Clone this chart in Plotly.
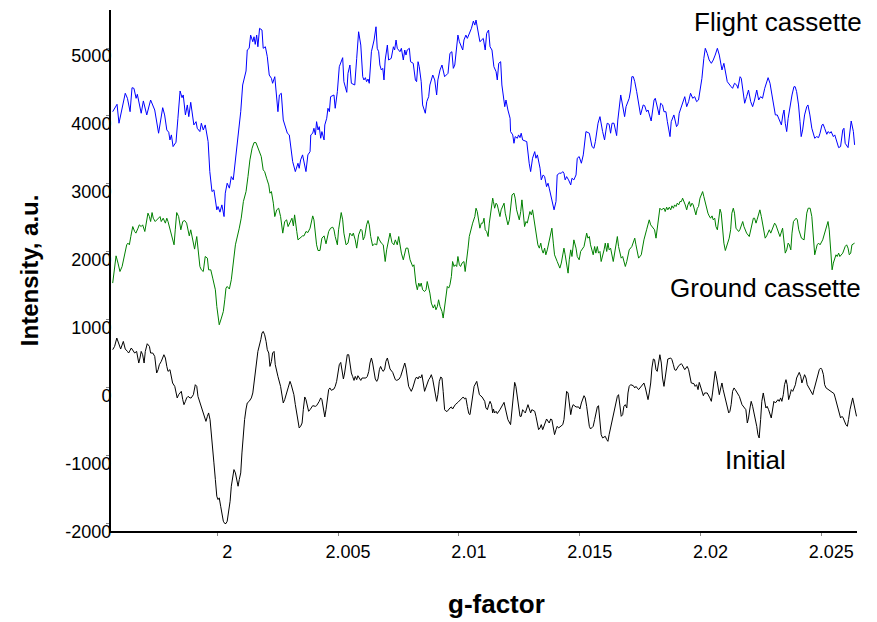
import plotly.graph_objects as go

# (g-factor, intensity a.u.)
flight_cassette = [
    (1.99567, 4063), (1.99585, 4172), (1.99593, 3893), (1.99611, 4187), (1.99619, 4334), (1.99628, 4260),
    (1.99639, 4063), (1.99647, 4416), (1.99655, 4407), (1.99664, 4260), (1.99669, 4319), (1.99685, 4040),
    (1.99694, 4221), (1.99708, 4015), (1.99724, 4235), (1.99741, 4088), (1.99757, 3746), (1.99774, 4122),
    (1.99782, 4015), (1.99791, 3794), (1.99799, 3760), (1.99804, 3647), (1.99810, 3721), (1.99817, 3549),
    (1.99829, 3613), (1.99837, 3966), (1.99846, 4368), (1.99854, 4269), (1.99859, 4309), (1.99868, 4015),
    (1.99876, 4162), (1.99882, 3990), (1.99890, 4201), (1.99903, 3868), (1.99912, 3916), (1.99917, 3819),
    (1.99928, 3770), (1.99934, 3893), (1.99942, 3794), (1.99950, 3868), (1.99962, 3622), (1.99969, 3181),
    (1.99978, 2887), (1.99986, 2912), (1.99992, 2740), (1.99998, 2618), (2.00003, 2667), (2.00011, 2584),
    (2.00019, 2691), (2.00028, 2519), (2.00033, 2863), (2.00041, 3010), (2.00050, 2937), (2.00058, 3107),
    (2.00066, 3059), (2.00075, 3328), (2.00083, 3647), (2.00097, 4063), (2.00105, 4456), (2.00119, 4662),
    (2.00124, 4971), (2.00132, 4996), (2.00138, 5191), (2.00147, 5093), (2.00152, 5166), (2.00157, 5054),
    (2.00163, 5191), (2.00168, 5019), (2.00175, 5290), (2.00185, 5265), (2.00190, 4996), (2.00199, 5019),
    (2.00207, 4872), (2.00215, 4603), (2.00224, 4554), (2.00229, 4481), (2.00238, 4578), (2.00246, 4235),
    (2.00251, 4063), (2.00257, 4309), (2.00265, 4334), (2.00273, 3941), (2.00290, 3746), (2.00298, 3721),
    (2.00304, 3549), (2.00312, 3328), (2.00323, 3181), (2.00329, 3255), (2.00334, 3304), (2.00339, 3230),
    (2.00345, 3353), (2.00353, 3427), (2.00359, 3304), (2.00367, 3181), (2.00375, 3427), (2.00384, 3475),
    (2.00387, 3721), (2.00395, 3746), (2.00400, 3819), (2.00406, 3721), (2.00411, 3916), (2.00417, 3794),
    (2.00422, 3843), (2.00428, 3672), (2.00433, 3770), (2.00442, 3647), (2.00445, 3868), (2.00453, 3966),
    (2.00458, 4113), (2.00464, 4063), (2.00469, 4284), (2.00483, 4309), (2.00488, 4113), (2.00497, 4358),
    (2.00505, 4725), (2.00519, 4858), (2.00524, 4505), (2.00536, 4348), (2.00541, 4628), (2.00549, 4750),
    (2.00555, 4481), (2.00569, 4456), (2.00577, 4848), (2.00585, 5240), (2.00594, 5044), (2.00602, 4578),
    (2.00607, 4530), (2.00613, 4564), (2.00618, 4505), (2.00624, 4544), (2.00629, 4481), (2.00638, 4946),
    (2.00649, 5118), (2.00657, 5313), (2.00662, 4996), (2.00668, 4946), (2.00673, 4750), (2.00679, 4677),
    (2.00685, 4701), (2.00690, 4530), (2.00695, 4824), (2.00704, 5044), (2.00709, 4824), (2.00720, 4848),
    (2.00729, 5019), (2.00734, 4971), (2.00740, 5118), (2.00745, 4996), (2.00756, 4946), (2.00762, 4996),
    (2.00770, 4824), (2.00776, 4971), (2.00781, 4897), (2.00786, 4971), (2.00795, 4996), (2.00800, 4799),
    (2.00811, 4775), (2.00820, 4530), (2.00825, 4505), (2.00831, 4799), (2.00836, 4725), (2.00844, 4505),
    (2.00850, 4162), (2.00861, 4040), (2.00867, 4211), (2.00875, 4284), (2.00880, 4456), (2.00892, 4603),
    (2.00900, 4530), (2.00908, 4309), (2.00913, 4530), (2.00922, 4677), (2.00930, 4750), (2.00941, 4578),
    (2.00955, 4628), (2.00963, 4922), (2.00971, 4946), (2.00977, 4701), (2.00983, 4750), (2.00991, 4996),
    (2.00996, 5191), (2.01002, 5093), (2.01016, 4971), (2.01021, 5118), (2.01029, 5191), (2.01035, 5142),
    (2.01041, 5191), (2.01052, 5290), (2.01060, 5397), (2.01066, 5338), (2.01071, 5412), (2.01082, 5191),
    (2.01087, 5093), (2.01101, 5142), (2.01109, 4971), (2.01115, 5216), (2.01123, 5265), (2.01129, 5019),
    (2.01137, 4971), (2.01145, 4725), (2.01154, 4652), (2.01159, 4530), (2.01165, 4775), (2.01173, 4799),
    (2.01178, 4456), (2.01190, 4137), (2.01195, 4235), (2.01203, 4088), (2.01212, 3966), (2.01214, 3770),
    (2.01223, 3721), (2.01228, 3598), (2.01233, 3696), (2.01242, 3672), (2.01247, 3721), (2.01253, 3681),
    (2.01258, 3746), (2.01264, 3647), (2.01281, 3622), (2.01291, 3304), (2.01297, 3181), (2.01305, 3378),
    (2.01314, 3475), (2.01319, 3378), (2.01325, 3427), (2.01336, 3230), (2.01341, 3059), (2.01349, 3132),
    (2.01355, 3107), (2.01363, 2960), (2.01369, 3010), (2.01374, 2937), (2.01382, 2813), (2.01394, 2618),
    (2.01402, 2740), (2.01407, 3132), (2.01416, 3157), (2.01424, 3157), (2.01430, 3181), (2.01435, 3157),
    (2.01440, 3059), (2.01446, 3107), (2.01454, 3059), (2.01463, 2985), (2.01468, 3083), (2.01476, 3059),
    (2.01485, 3132), (2.01490, 3378), (2.01498, 3402), (2.01507, 3304), (2.01515, 3427), (2.01526, 3770),
    (2.01540, 3746), (2.01551, 3549), (2.01559, 3524), (2.01565, 3622), (2.01576, 3893), (2.01584, 3990),
    (2.01595, 3770), (2.01603, 3647), (2.01609, 3794), (2.01614, 3893), (2.01622, 3878), (2.01628, 3746),
    (2.01634, 3893), (2.01642, 3893), (2.01653, 3711), (2.01658, 3941), (2.01670, 4309), (2.01678, 4162),
    (2.01686, 3990), (2.01692, 4137), (2.01705, 4260), (2.01711, 4382), (2.01716, 4578), (2.01722, 4578),
    (2.01728, 4505), (2.01736, 4358), (2.01741, 4260), (2.01747, 4113), (2.01752, 4015), (2.01763, 4162),
    (2.01769, 4152), (2.01777, 4063), (2.01783, 4088), (2.01796, 3926), (2.01808, 4235), (2.01813, 4260),
    (2.01821, 4137), (2.01829, 4015), (2.01835, 4187), (2.01843, 4162), (2.01849, 4063), (2.01857, 4063),
    (2.01863, 3916), (2.01874, 3696), (2.01879, 3916), (2.01890, 4015), (2.01901, 3843), (2.01907, 3878),
    (2.01912, 4040), (2.01918, 4113), (2.01929, 4211), (2.01935, 4284), (2.01943, 4137), (2.01951, 4211),
    (2.01959, 4334), (2.01968, 4260), (2.01976, 4284), (2.01984, 4211), (2.01992, 4235), (2.02001, 4416),
    (2.02006, 4554), (2.02014, 4848), (2.02020, 4996), (2.02028, 4922), (2.02036, 4824), (2.02045, 4775),
    (2.02053, 4824), (2.02061, 4897), (2.02070, 4996), (2.02078, 4897), (2.02089, 4677), (2.02097, 4775),
    (2.02103, 4628), (2.02111, 4505), (2.02127, 4431), (2.02133, 4407), (2.02141, 4481), (2.02150, 4456),
    (2.02155, 4407), (2.02164, 4578), (2.02169, 4554), (2.02177, 4284), (2.02183, 4187), (2.02191, 4284),
    (2.02199, 4382), (2.02208, 4211), (2.02216, 4137), (2.02224, 4235), (2.02233, 4382), (2.02241, 4235),
    (2.02249, 4284), (2.02257, 4260), (2.02266, 4407), (2.02280, 4564), (2.02288, 4481), (2.02296, 4309),
    (2.02304, 4137), (2.02310, 4015), (2.02318, 4015), (2.02326, 3941), (2.02335, 3868), (2.02341, 4015),
    (2.02346, 4088), (2.02351, 3893), (2.02357, 3770), (2.02363, 3966), (2.02371, 4162), (2.02379, 4309),
    (2.02387, 4431), (2.02392, 4431), (2.02398, 4358), (2.02406, 4162), (2.02412, 3916), (2.02417, 3696),
    (2.02423, 3794), (2.02431, 4015), (2.02440, 4137), (2.02445, 4162), (2.02453, 4015), (2.02461, 3819),
    (2.02473, 3672), (2.02481, 3696), (2.02489, 3681), (2.02495, 3746), (2.02503, 3868), (2.02508, 3878),
    (2.02514, 3819), (2.02523, 3730), (2.02528, 3770), (2.02536, 3746), (2.02541, 3770), (2.02550, 3696),
    (2.02556, 3721), (2.02564, 3622), (2.02572, 3534), (2.02580, 3549), (2.02589, 3794), (2.02594, 3819),
    (2.02599, 3598), (2.02611, 3534), (2.02616, 3721), (2.02624, 3926), (2.02633, 3770), (2.02638, 3574),
]

ground_cassette = [
    (1.99567, 1540), (1.99575, 1784), (1.99581, 1941), (1.99589, 1834), (1.99597, 1710), (1.99606, 1784),
    (1.99617, 1981), (1.99625, 2103), (1.99630, 2128), (1.99636, 2103), (1.99642, 2225), (1.99650, 2372),
    (1.99658, 2299), (1.99663, 2275), (1.99672, 2348), (1.99677, 2397), (1.99685, 2372), (1.99691, 2397),
    (1.99700, 2299), (1.99708, 2471), (1.99713, 2569), (1.99719, 2519), (1.99724, 2446), (1.99730, 2578),
    (1.99735, 2495), (1.99743, 2446), (1.99755, 2495), (1.99763, 2519), (1.99768, 2446), (1.99776, 2495),
    (1.99785, 2422), (1.99791, 2495), (1.99796, 2446), (1.99804, 2324), (1.99813, 2201), (1.99821, 2103),
    (1.99826, 2324), (1.99832, 2578), (1.99840, 2519), (1.99849, 2324), (1.99857, 2446), (1.99865, 2461),
    (1.99873, 2422), (1.99879, 2324), (1.99884, 2235), (1.99890, 2324), (1.99898, 2201), (1.99906, 2040),
    (1.99915, 2225), (1.99920, 2078), (1.99928, 1784), (1.99934, 1735), (1.99942, 1710), (1.99950, 1931),
    (1.99959, 1907), (1.99964, 1735), (1.99973, 1735), (1.99981, 1613), (1.99992, 1441), (1.99998, 1196),
    (2.00003, 1025), (2.00008, 926), (2.00017, 1025), (2.00025, 1122), (2.00031, 1294), (2.00036, 1466),
    (2.00041, 1490), (2.00050, 1452), (2.00058, 1588), (2.00066, 1834), (2.00075, 2103), (2.00091, 2348),
    (2.00099, 2495), (2.00108, 2740), (2.00119, 2887), (2.00127, 3107), (2.00135, 3353), (2.00144, 3525),
    (2.00152, 3608), (2.00160, 3608), (2.00168, 3525), (2.00177, 3451), (2.00182, 3402), (2.00190, 3206),
    (2.00196, 3181), (2.00204, 3084), (2.00213, 2985), (2.00218, 2863), (2.00224, 2887), (2.00232, 2716),
    (2.00238, 2519), (2.00246, 2618), (2.00254, 2642), (2.00262, 2519), (2.00271, 2275), (2.00279, 2446),
    (2.00287, 2471), (2.00293, 2372), (2.00301, 2446), (2.00309, 2495), (2.00315, 2382), (2.00320, 2544),
    (2.00329, 2299), (2.00334, 2176), (2.00342, 2201), (2.00353, 2235), (2.00359, 2235), (2.00367, 2299),
    (2.00375, 2284), (2.00384, 2348), (2.00395, 2529), (2.00400, 2471), (2.00411, 2103), (2.00417, 2019),
    (2.00425, 2019), (2.00433, 2201), (2.00442, 2235), (2.00450, 2118), (2.00461, 2299), (2.00469, 2348),
    (2.00478, 2363), (2.00483, 2324), (2.00488, 2225), (2.00497, 2103), (2.00502, 2324), (2.00513, 2578),
    (2.00519, 2471), (2.00524, 2275), (2.00533, 2103), (2.00541, 2128), (2.00549, 2275), (2.00558, 2235),
    (2.00563, 2275), (2.00571, 2176), (2.00577, 2054), (2.00585, 2250), (2.00594, 2333), (2.00599, 2313),
    (2.00604, 2176), (2.00610, 2225), (2.00618, 2397), (2.00624, 2461), (2.00629, 2397), (2.00635, 2225),
    (2.00643, 2088), (2.00651, 2118), (2.00660, 2103), (2.00665, 2225), (2.00671, 2176), (2.00679, 2128),
    (2.00687, 2103), (2.00695, 1857), (2.00701, 2029), (2.00709, 2176), (2.00715, 2275), (2.00723, 2137),
    (2.00731, 2103), (2.00737, 2176), (2.00745, 2103), (2.00751, 2225), (2.00756, 2088), (2.00762, 1981),
    (2.00770, 1882), (2.00776, 1981), (2.00781, 2054), (2.00789, 2054), (2.00798, 1882), (2.00809, 1784),
    (2.00814, 1809), (2.00822, 1540), (2.00828, 1441), (2.00834, 1540), (2.00839, 1490), (2.00844, 1540),
    (2.00850, 1441), (2.00858, 1416), (2.00864, 1441), (2.00869, 1563), (2.00880, 1392), (2.00886, 1245),
    (2.00894, 1172), (2.00900, 1221), (2.00905, 1147), (2.00911, 1196), (2.00916, 1294), (2.00922, 1196),
    (2.00930, 1122), (2.00935, 1025), (2.00941, 1196), (2.00947, 1294), (2.00952, 1490), (2.00958, 1466),
    (2.00963, 1515), (2.00969, 1637), (2.00974, 1857), (2.00980, 1784), (2.00985, 1809), (2.00991, 1784),
    (2.00996, 1931), (2.01002, 1809), (2.01007, 1784), (2.01013, 1834), (2.01021, 1857), (2.01026, 1710),
    (2.01032, 1857), (2.01038, 2054), (2.01043, 2225), (2.01052, 2372), (2.01057, 2422), (2.01066, 2519),
    (2.01071, 2642), (2.01076, 2593), (2.01082, 2422), (2.01087, 2348), (2.01093, 2422), (2.01099, 2422),
    (2.01104, 2495), (2.01109, 2324), (2.01115, 2299), (2.01121, 2225), (2.01126, 2422), (2.01132, 2569),
    (2.01140, 2790), (2.01143, 2740), (2.01148, 2642), (2.01154, 2716), (2.01159, 2691), (2.01170, 2519),
    (2.01175, 2618), (2.01187, 2716), (2.01192, 2569), (2.01203, 2397), (2.01209, 2471), (2.01220, 2838),
    (2.01228, 2863), (2.01233, 2790), (2.01239, 2618), (2.01250, 2471), (2.01256, 2593), (2.01261, 2765),
    (2.01267, 2569), (2.01272, 2372), (2.01278, 2446), (2.01283, 2422), (2.01294, 2593), (2.01300, 2544),
    (2.01305, 2618), (2.01316, 2372), (2.01322, 2275), (2.01327, 2103), (2.01333, 2054), (2.01339, 2128),
    (2.01344, 2029), (2.01349, 1981), (2.01355, 2054), (2.01360, 1956), (2.01366, 2029), (2.01377, 2225),
    (2.01385, 2348), (2.01391, 2128), (2.01396, 1956), (2.01407, 1857), (2.01413, 1809), (2.01418, 1760),
    (2.01424, 1834), (2.01435, 2054), (2.01440, 1956), (2.01446, 1834), (2.01452, 1686), (2.01457, 1882),
    (2.01463, 2029), (2.01468, 1931), (2.01476, 2176), (2.01485, 2054), (2.01490, 1931), (2.01498, 1882),
    (2.01504, 2005), (2.01518, 2078), (2.01523, 2201), (2.01529, 2275), (2.01534, 2201), (2.01540, 2225),
    (2.01545, 2103), (2.01556, 1956), (2.01562, 2078), (2.01567, 1981), (2.01573, 2078), (2.01578, 1981),
    (2.01584, 2005), (2.01589, 1857), (2.01601, 2029), (2.01606, 2128), (2.01612, 2005), (2.01617, 2128),
    (2.01622, 2029), (2.01628, 2054), (2.01639, 1857), (2.01645, 2005), (2.01656, 2225), (2.01661, 2078),
    (2.01672, 1907), (2.01678, 1931), (2.01689, 1784), (2.01695, 1857), (2.01705, 2029), (2.01716, 2078),
    (2.01728, 2201), (2.01733, 2103), (2.01744, 1907), (2.01755, 1956), (2.01766, 2176), (2.01777, 2324),
    (2.01788, 2471), (2.01794, 2397), (2.01805, 2348), (2.01810, 2324), (2.01816, 2201), (2.01821, 2324),
    (2.01832, 2642), (2.01838, 2618), (2.01849, 2642), (2.01854, 2593), (2.01860, 2657), (2.01865, 2618),
    (2.01871, 2657), (2.01877, 2618), (2.01882, 2677), (2.01888, 2642), (2.01893, 2691), (2.01899, 2667),
    (2.01904, 2716), (2.01910, 2691), (2.01915, 2740), (2.01921, 2740), (2.01926, 2790), (2.01937, 2691),
    (2.01943, 2618), (2.01948, 2691), (2.01954, 2740), (2.01959, 2667), (2.01965, 2716), (2.01970, 2691),
    (2.01981, 2544), (2.01987, 2642), (2.01992, 2667), (2.01998, 2790), (2.02009, 2887), (2.02014, 2813),
    (2.02020, 2716), (2.02026, 2618), (2.02031, 2569), (2.02036, 2529), (2.02042, 2495), (2.02048, 2529),
    (2.02053, 2471), (2.02059, 2495), (2.02064, 2372), (2.02070, 2324), (2.02081, 2628), (2.02086, 2569),
    (2.02092, 2324), (2.02097, 2128), (2.02103, 2019), (2.02108, 2078), (2.02114, 2176), (2.02119, 2201),
    (2.02125, 2324), (2.02130, 2569), (2.02136, 2642), (2.02141, 2569), (2.02147, 2348), (2.02158, 2299),
    (2.02163, 2324), (2.02175, 2446), (2.02180, 2372), (2.02191, 2275), (2.02202, 2225), (2.02208, 2324),
    (2.02219, 2495), (2.02224, 2495), (2.02230, 2422), (2.02235, 2480), (2.02246, 2618), (2.02252, 2519),
    (2.02263, 2250), (2.02268, 2201), (2.02274, 2235), (2.02285, 2324), (2.02291, 2275), (2.02307, 2422),
    (2.02312, 2397), (2.02324, 2250), (2.02329, 2225), (2.02340, 2348), (2.02346, 2176), (2.02351, 1981),
    (2.02357, 2029), (2.02363, 2128), (2.02368, 2103), (2.02374, 2029), (2.02379, 2275), (2.02385, 2446),
    (2.02396, 2495), (2.02401, 2471), (2.02407, 2324), (2.02418, 2201), (2.02429, 2176), (2.02435, 2372),
    (2.02440, 2569), (2.02446, 2642), (2.02454, 2642), (2.02461, 2519), (2.02467, 2176), (2.02473, 1956),
    (2.02478, 2029), (2.02483, 2103), (2.02489, 2128), (2.02495, 2103), (2.02506, 2176), (2.02517, 2299),
    (2.02528, 2446), (2.02533, 2324), (2.02539, 2078), (2.02545, 1735), (2.02550, 1834), (2.02556, 1907),
    (2.02561, 1956), (2.02566, 1931), (2.02572, 1981), (2.02577, 1931), (2.02589, 1981), (2.02599, 2078),
    (2.02605, 2103), (2.02611, 2054), (2.02616, 1956), (2.02622, 1981), (2.02627, 2103), (2.02638, 2128),
]

initial = [
    (1.99567, 559), (1.99575, 608), (1.99584, 731), (1.99592, 657), (1.99600, 569), (1.99611, 681),
    (1.99619, 569), (1.99628, 534), (1.99633, 510), (1.99644, 584), (1.99653, 534), (1.99658, 510),
    (1.99666, 534), (1.99675, 363), (1.99680, 437), (1.99685, 534), (1.99691, 485), (1.99697, 363),
    (1.99702, 534), (1.99710, 647), (1.99719, 608), (1.99724, 510), (1.99733, 510), (1.99741, 461),
    (1.99749, 216), (1.99755, 265), (1.99760, 338), (1.99768, 387), (1.99779, 485), (1.99785, 437),
    (1.99791, 313), (1.99796, 240), (1.99804, 265), (1.99810, 166), (1.99815, 69), (1.99824, 19),
    (1.99829, -54), (1.99834, -151), (1.99840, -103), (1.99846, -78), (1.99851, -54), (1.99857, -176),
    (1.99862, -250), (1.99868, -201), (1.99873, -151), (1.99879, -128), (1.99887, -151), (1.99892, -151),
    (1.99901, -103), (1.99909, 44), (1.99915, 19), (1.99920, -128), (1.99928, -225), (1.99940, -372),
    (1.99948, -471), (1.99953, -496), (1.99959, -422), (1.99964, -372), (1.99970, -471), (1.99975, -716),
    (1.99981, -912), (1.99986, -1107), (1.99992, -1353), (1.99998, -1599), (2.00003, -1647), (2.00008, -1622),
    (2.00014, -1746), (2.00019, -1868), (2.00025, -1966), (2.00031, -2000), (2.00036, -2000), (2.00041, -1966),
    (2.00047, -1843), (2.00053, -1672), (2.00058, -1451), (2.00064, -1304), (2.00069, -1206), (2.00075, -1255),
    (2.00080, -1353), (2.00086, -1451), (2.00091, -1353), (2.00097, -1255), (2.00102, -961), (2.00108, -667),
    (2.00113, -471), (2.00119, -314), (2.00124, -225), (2.00132, -201), (2.00141, -151), (2.00147, -78),
    (2.00152, 69), (2.00157, 265), (2.00163, 437), (2.00168, 534), (2.00180, 706), (2.00185, 804),
    (2.00190, 828), (2.00196, 779), (2.00202, 681), (2.00207, 559), (2.00213, 510), (2.00218, 313),
    (2.00224, 387), (2.00229, 510), (2.00235, 534), (2.00240, 338), (2.00251, 166), (2.00262, 19),
    (2.00273, -225), (2.00279, -176), (2.00293, -4), (2.00301, 93), (2.00306, 44), (2.00317, -103),
    (2.00323, -250), (2.00329, -397), (2.00334, -544), (2.00339, -593), (2.00345, -569), (2.00351, -520),
    (2.00356, -324), (2.00362, -137), (2.00367, -176), (2.00373, -299), (2.00378, -348), (2.00384, -324),
    (2.00395, -265), (2.00406, -275), (2.00411, -265), (2.00422, -201), (2.00428, -151), (2.00433, -176),
    (2.00439, -324), (2.00445, -431), (2.00450, -324), (2.00455, -176), (2.00461, -29), (2.00466, -4),
    (2.00472, -39), (2.00483, -19), (2.00488, 19), (2.00494, 93), (2.00500, 216), (2.00505, 338),
    (2.00511, 372), (2.00516, 240), (2.00522, 128), (2.00527, 216), (2.00533, 387), (2.00538, 485),
    (2.00544, 485), (2.00549, 338), (2.00555, 216), (2.00560, 166), (2.00566, 107), (2.00571, 166),
    (2.00577, 118), (2.00582, 176), (2.00594, 107), (2.00599, 142), (2.00615, 142), (2.00621, 166),
    (2.00627, 240), (2.00632, 363), (2.00638, 437), (2.00643, 363), (2.00649, 216), (2.00654, 128),
    (2.00660, 93), (2.00665, 128), (2.00671, 265), (2.00676, 313), (2.00682, 265), (2.00687, 240),
    (2.00693, 275), (2.00698, 387), (2.00704, 437), (2.00709, 338), (2.00715, 275), (2.00726, 225),
    (2.00731, 176), (2.00737, 118), (2.00743, 107), (2.00753, 128), (2.00759, 166), (2.00770, 313),
    (2.00776, 363), (2.00781, 290), (2.00786, 142), (2.00792, 19), (2.00803, -54), (2.00809, -4),
    (2.00820, 128), (2.00825, 157), (2.00831, 128), (2.00836, 166), (2.00842, 142), (2.00847, 191),
    (2.00858, -54), (2.00864, 19), (2.00875, 118), (2.00880, 142), (2.00886, 191), (2.00892, 118),
    (2.00897, 19), (2.00902, -78), (2.00908, -201), (2.00913, -103), (2.00919, 93), (2.00925, 157),
    (2.00930, 142), (2.00935, -54), (2.00941, -324), (2.00947, -348), (2.00952, -348), (2.00963, -299),
    (2.00969, -284), (2.00974, -314), (2.00985, -250), (2.00996, -216), (2.01007, -176), (2.01018, -137),
    (2.01024, -166), (2.01029, -151), (2.01035, -275), (2.01041, -382), (2.01046, -397), (2.01052, -225),
    (2.01057, -78), (2.01063, 19), (2.01074, 93), (2.01079, 19), (2.01085, -103), (2.01096, -137),
    (2.01107, -201), (2.01112, -299), (2.01118, -324), (2.01124, -250), (2.01129, -201), (2.01135, -250),
    (2.01140, -372), (2.01143, -314), (2.01148, -372), (2.01154, -348), (2.01159, -382), (2.01170, -324),
    (2.01181, -250), (2.01187, -216), (2.01192, -299), (2.01203, -471), (2.01214, -544), (2.01220, -324),
    (2.01225, -78), (2.01231, 78), (2.01236, 19), (2.01242, -151), (2.01247, -299), (2.01253, -422),
    (2.01258, -422), (2.01264, -324), (2.01269, -348), (2.01275, -372), (2.01286, -250), (2.01291, -299),
    (2.01297, -372), (2.01302, -324), (2.01314, -348), (2.01319, -422), (2.01330, -618), (2.01336, -593),
    (2.01341, -544), (2.01347, -618), (2.01358, -496), (2.01363, -461), (2.01374, -520), (2.01380, -461),
    (2.01385, -471), (2.01396, -691), (2.01402, -618), (2.01407, -569), (2.01413, -593), (2.01424, -569),
    (2.01430, -544), (2.01435, -471), (2.01440, -275), (2.01446, -54), (2.01452, -78), (2.01457, -250),
    (2.01463, -397), (2.01468, -299), (2.01473, -250), (2.01485, -284), (2.01496, -284), (2.01501, -314),
    (2.01507, -225), (2.01518, -118), (2.01523, -151), (2.01529, -275), (2.01534, -422), (2.01540, -569),
    (2.01545, -608), (2.01556, -569), (2.01562, -471), (2.01567, -372), (2.01573, -284), (2.01578, -265),
    (2.01584, -471), (2.01589, -691), (2.01595, -740), (2.01606, -716), (2.01612, -765), (2.01617, -790),
    (2.01622, -691), (2.01628, -593), (2.01634, -520), (2.01639, -446), (2.01645, -348), (2.01650, -250),
    (2.01656, -128), (2.01661, -103), (2.01667, -250), (2.01672, -422), (2.01678, -397), (2.01683, -275),
    (2.01689, -250), (2.01695, -299), (2.01700, -78), (2.01705, 19), (2.01711, 44), (2.01722, 29),
    (2.01728, -4), (2.01733, 19), (2.01744, -29), (2.01755, 19), (2.01766, 69), (2.01772, -4),
    (2.01783, -176), (2.01788, -78), (2.01794, 69), (2.01799, 290), (2.01805, 422), (2.01810, 412),
    (2.01816, 265), (2.01821, 240), (2.01827, 387), (2.01832, 485), (2.01838, 363), (2.01843, 142),
    (2.01849, 19), (2.01854, 142), (2.01860, 363), (2.01865, 422), (2.01877, 437), (2.01882, 412),
    (2.01888, 338), (2.01893, 265), (2.01899, 255), (2.01910, 324), (2.01921, 353), (2.01924, 338),
    (2.01935, 265), (2.01945, 313), (2.01951, 265), (2.01962, 69), (2.01973, 59), (2.01978, 19),
    (2.01984, 44), (2.01990, -29), (2.01995, 78), (2.02001, 19), (2.02006, -54), (2.02012, -118),
    (2.02017, -78), (2.02028, -78), (2.02039, -151), (2.02045, -201), (2.02050, -78), (2.02056, 69),
    (2.02061, 240), (2.02067, 142), (2.02072, -4), (2.02078, -103), (2.02084, -4), (2.02089, 69),
    (2.02094, -29), (2.02106, -225), (2.02117, -372), (2.02122, -348), (2.02127, -250), (2.02133, -54),
    (2.02139, -4), (2.02144, -29), (2.02155, -103), (2.02161, -128), (2.02172, -250), (2.02183, -314),
    (2.02188, -324), (2.02194, -520), (2.02199, -446), (2.02205, -299), (2.02210, -201), (2.02216, -275),
    (2.02227, -446), (2.02233, -569), (2.02238, -691), (2.02243, -740), (2.02249, -471), (2.02254, -201),
    (2.02260, -78), (2.02266, -176), (2.02271, -299), (2.02276, -275), (2.02282, -324), (2.02293, -446),
    (2.02299, -324), (2.02304, -201), (2.02310, -225), (2.02321, -176), (2.02326, -201), (2.02332, -151),
    (2.02337, -201), (2.02343, -103), (2.02348, 44), (2.02354, 118), (2.02359, 44), (2.02365, -176),
    (2.02371, -103), (2.02376, -29), (2.02382, -54), (2.02393, 44), (2.02398, 142), (2.02409, 225),
    (2.02415, 166), (2.02420, 69), (2.02431, 191), (2.02437, 142), (2.02442, 44), (2.02453, -29),
    (2.02465, -103), (2.02470, -29), (2.02481, 142), (2.02492, 265), (2.02498, 290), (2.02503, 265),
    (2.02509, 191), (2.02514, 44), (2.02520, -4), (2.02536, -39), (2.02553, -88), (2.02558, -151),
    (2.02569, -299), (2.02575, -397), (2.02580, -446), (2.02586, -422), (2.02591, -446), (2.02602, -544),
    (2.02608, -569), (2.02613, -471), (2.02619, -324), (2.02630, -151), (2.02635, -250), (2.02646, -422),
]

x_tick_vals = [2.0, 2.005, 2.01, 2.015, 2.02, 2.025]
x_tick_text = ["2", "2.005", "2.01", "2.015", "2.02", "2.025"]
y_tick_vals = [-2000, -1000, 0, 1000, 2000, 3000, 4000, 5000]
y_tick_text = ["-2000", "-1000", "0", "1000", "2000", "3000", "4000", "5000"]

series = [
    ("Flight cassette", flight_cassette, "#0000ff"),
    ("Ground cassette", ground_cassette, "#008000"),
    ("Initial", initial, "#000000"),
]

fig = go.Figure()
for name, points, color in series:
    g, intensity = zip(*points)
    fig.add_trace(go.Scatter(x=g, y=intensity, mode="lines", name=name,
                             line=dict(color=color, width=1), showlegend=False))

font = "Arial, Liberation Sans, sans-serif"

# curve labels placed next to each spectrum
labels = [("Flight cassette", 2.02321, 5382), ("Ground cassette", 2.02271, 1471), ("Initial", 2.02229, -1059)]
for text, gx, gy in labels:
    fig.add_annotation(x=gx, y=gy, text=text, showarrow=False,
                       font=dict(family=font, size=26, color="black"))

fig.add_annotation(xref="paper", yref="paper", x=-0.109, y=0.50, xanchor="center", yanchor="middle",
                   text="<b>Intensity, a.u.</b>", textangle=-90, showarrow=False,
                   font=dict(family=font, size=24, color="black"))
fig.add_annotation(xref="paper", yref="paper", x=0.517, y=-0.14, xanchor="center", yanchor="middle",
                   text="<b>g-factor</b>", showarrow=False,
                   font=dict(family=font, size=26, color="black"))

# the page body adds an 8 px offset, so the figure is drawn 8 px smaller
fig.update_layout(
    width=869, height=614,
    margin=dict(l=103, r=20, t=2, b=91),
    plot_bgcolor="white", paper_bgcolor="white",
    font=dict(family=font, size=18, color="black"),
)
fig.update_xaxes(range=[1.9956, 2.02648], tickvals=x_tick_vals, ticktext=x_tick_text,
                 showline=True, linecolor="black", linewidth=2, showgrid=False, zeroline=False,
                 ticks="outside", ticklen=3, tickcolor="#888888", ticklabelshift=10)
fig.update_yaxes(range=[-2110, 5560], tickvals=y_tick_vals, ticktext=y_tick_text,
                 showline=True, linecolor="black", linewidth=2, showgrid=False, zeroline=False,
                 ticks="outside", ticklen=3, tickcolor="#888888", ticklabelshift=8,
                 ticklabelstandoff=-9)

fig.write_html("out.html")
